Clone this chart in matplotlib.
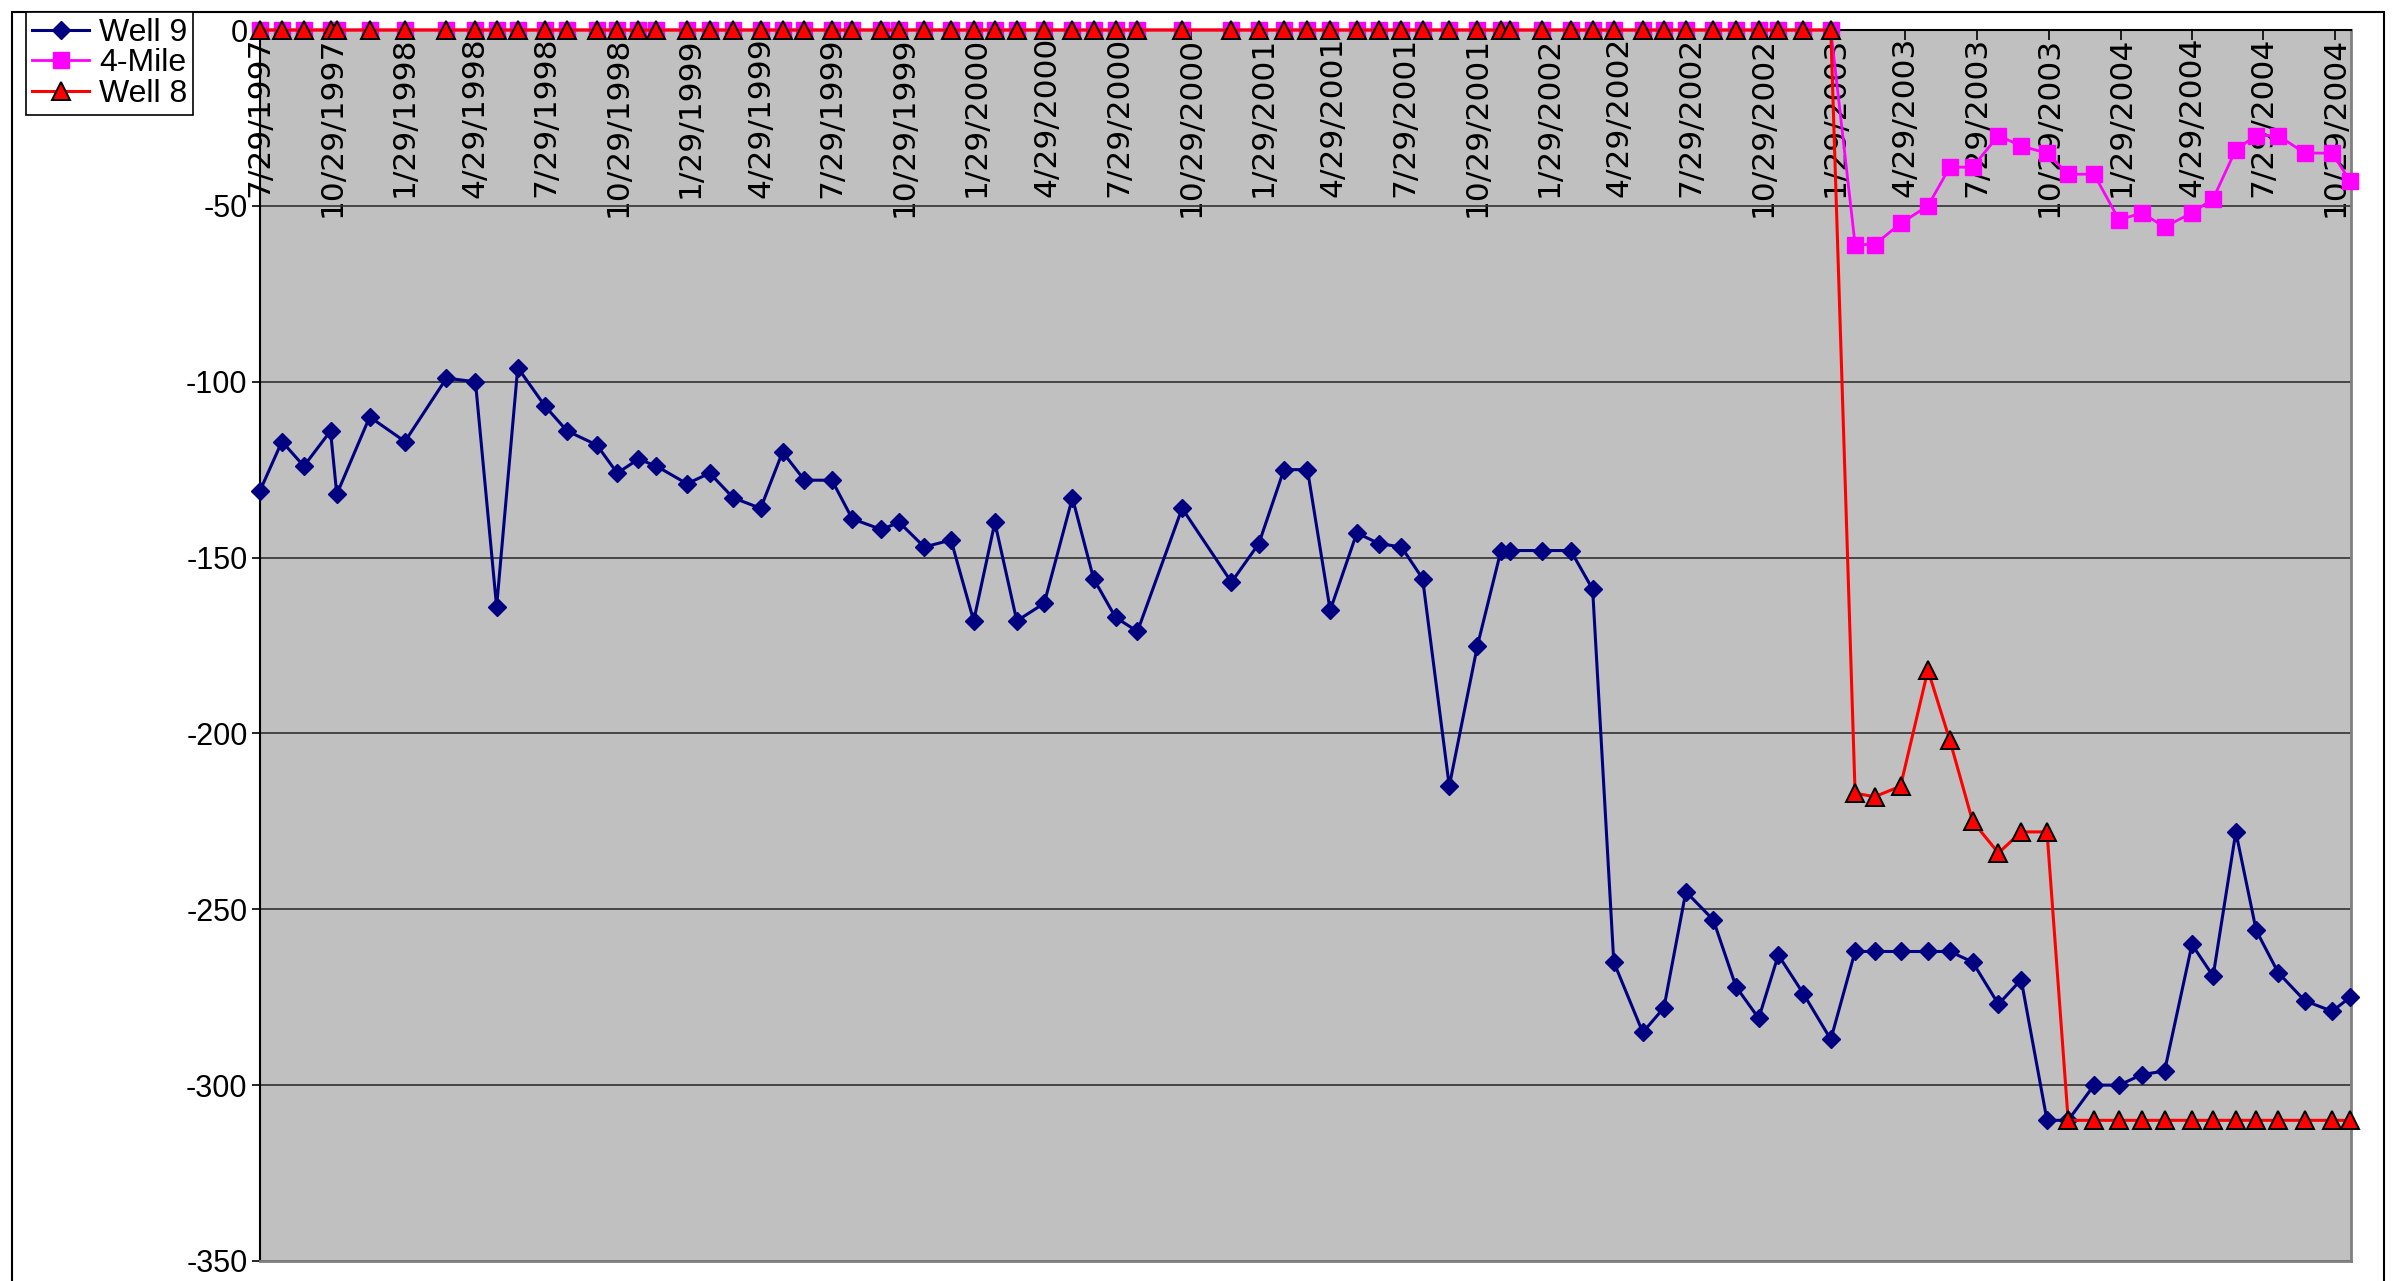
import matplotlib
matplotlib.use('Agg')
import matplotlib.pyplot as plt
from matplotlib.patches import Rectangle
import pandas as pd

# sampling dates shared by all three series
dates = [
    '1997-07-29', '1997-08-26', '1997-09-23', '1997-10-27', '1997-11-04', '1997-12-16',
    '1998-01-30', '1998-03-24', '1998-04-30', '1998-05-27', '1998-06-23', '1998-07-28',
    '1998-08-25', '1998-10-02', '1998-10-28', '1998-11-24', '1998-12-17', '1999-01-25',
    '1999-02-23', '1999-03-25', '1999-04-29', '1999-05-27', '1999-06-24', '1999-07-29',
    '1999-08-24', '1999-09-30', '1999-10-23', '1999-11-24', '1999-12-28', '2000-01-26',
    '2000-02-22', '2000-03-21', '2000-04-25', '2000-05-31', '2000-06-27', '2000-07-25',
    '2000-08-22', '2000-10-18', '2000-12-20', '2001-01-24', '2001-02-25', '2001-03-27',
    '2001-04-25', '2001-05-29', '2001-06-26', '2001-07-25', '2001-08-21', '2001-09-24',
    '2001-10-30', '2001-11-29', '2001-12-10', '2002-01-20', '2002-02-26', '2002-03-26',
    '2002-04-22', '2002-05-29', '2002-06-25', '2002-07-23', '2002-08-27', '2002-09-25',
    '2002-10-24', '2002-11-18', '2002-12-20', '2003-01-24', '2003-02-24', '2003-03-21',
    '2003-04-23', '2003-05-28', '2003-06-25', '2003-07-24', '2003-08-26', '2003-09-24',
    '2003-10-27', '2003-11-23', '2003-12-26', '2004-01-27', '2004-02-25', '2004-03-25',
    '2004-04-29', '2004-05-26', '2004-06-24', '2004-07-20', '2004-08-17', '2004-09-20',
    '2004-10-25', '2004-11-17',
]

well9 = [
    -131, -117, -124, -114, -132, -110, -117, -99, -100, -164, -96, -107,
    -114, -118, -126, -122, -124, -129, -126, -133, -136, -120, -128, -128,
    -139, -142, -140, -147, -145, -168, -140, -168, -163, -133, -156, -167,
    -171, -136, -157, -146, -125, -125, -165, -143, -146, -147, -156, -215,
    -175, -148, -148, -148, -148, -159, -265, -285, -278, -245, -253, -272,
    -281, -263, -274, -287, -262, -262, -262, -262, -262, -265, -277, -270,
    -310, -310, -300, -300, -297, -296, -260, -269, -228, -256, -268, -276,
    -279, -275,
]

four_mile = [
    0, 0, 0, 0, 0, 0, 0, 0, 0, 0, 0, 0, 0, 0, 0, 0,
    0, 0, 0, 0, 0, 0, 0, 0, 0, 0, 0, 0, 0, 0, 0, 0,
    0, 0, 0, 0, 0, 0, 0, 0, 0, 0, 0, 0, 0, 0, 0, 0,
    0, 0, 0, 0, 0, 0, 0, 0, 0, 0, 0, 0, 0, 0, 0, 0,
    -61, -61, -55, -50, -39, -39, -30, -33, -35, -41, -41, -54,
    -52, -56, -52, -48, -34, -30, -30, -35, -35, -43,
]

well8 = [
    0, 0, 0, 0, 0, 0, 0, 0, 0, 0, 0, 0, 0, 0, 0, 0,
    0, 0, 0, 0, 0, 0, 0, 0, 0, 0, 0, 0, 0, 0, 0, 0,
    0, 0, 0, 0, 0, 0, 0, 0, 0, 0, 0, 0, 0, 0, 0, 0,
    0, 0, 0, 0, 0, 0, 0, 0, 0, 0, 0, 0, 0, 0, 0, 0,
    -217, -218, -215, -182, -202, -225, -234, -228, -228, -310, -310, -310,
    -310, -310, -310, -310, -310, -310, -310, -310, -310, -310,
]

tick_labels = [
    '7/29/1997', '10/29/1997', '1/29/1998', '4/29/1998', '7/29/1998', '10/29/1998',
    '1/29/1999', '4/29/1999', '7/29/1999', '10/29/1999', '1/29/2000', '4/29/2000',
    '7/29/2000', '10/29/2000', '1/29/2001', '4/29/2001', '7/29/2001', '10/29/2001',
    '1/29/2002', '4/29/2002', '7/29/2002', '10/29/2002', '1/29/2003', '4/29/2003',
    '7/29/2003', '10/29/2003', '1/29/2004', '4/29/2004', '7/29/2004', '10/29/2004',
]

plt.rcParams['font.family'] = ['Liberation Sans', 'DejaVu Sans']
plt.rcParams['axes.unicode_minus'] = False

x = pd.to_datetime(dates)
ticks = pd.to_datetime(tick_labels, format='%m/%d/%Y')

W, H = 2393, 1281
fig = plt.figure(figsize=(W / 100, H / 100), dpi=100)
ax = fig.add_axes([260 / W, 1 - 1261 / H, (2351 - 260) / W, (1261 - 30) / H])
ax.set_facecolor('#C0C0C0')

ax.plot(x, well9, color='#000080', lw=2.2, marker='D', ms=9,
        label='Well 9', zorder=3, clip_on=False)
ax.plot(x, four_mile, color='#FF00FF', lw=2.0, marker='s', ms=12,
        label='4-Mile', zorder=4, clip_on=False)
ax.plot(x, well8, color='#FF0000', lw=2.2, marker='^', ms=13, mfc='#FF0000',
        mec='black', mew=1.4, label='Well 8', zorder=5, clip_on=False)

ax.set_ylim(-350, 0)
ax.set_xlim(pd.Timestamp('1997-07-29'), pd.Timestamp('2004-11-18'))
ax.set_yticks(range(-350, 1, 50))
ax.yaxis.grid(True, color='#303030', lw=1.2)
ax.set_axisbelow(True)

# x axis crosses at 0 (top); labels hang down inside the plot area
ax.set_xticks(ticks)
ax.set_xticklabels(tick_labels, fontfamily='DejaVu Sans')
ax.tick_params(axis='x', top=True, bottom=False, labeltop=True, labelbottom=False,
               direction='in', length=7, width=1.2, pad=-5, labelsize=22.5,
               labelrotation=90)
for t in ax.xaxis.get_major_ticks():
    t.label2.set_verticalalignment('top')
    t.label2.set_fontfamily('DejaVu Sans')
ax.tick_params(axis='y', direction='out', length=6, width=1.2, pad=3, labelsize=22)

for side in ['left', 'top']:
    ax.spines[side].set_color('black')
    ax.spines[side].set_linewidth(1.5)
for side in ['right', 'bottom']:
    ax.spines[side].set_color('#808080')
    ax.spines[side].set_linewidth(2)

# chart area border (bottom edge falls outside the picture)
fig.add_artist(Rectangle((12 / W, -0.05), (2384 - 12) / W, 1.05 - 12 / H,
                         transform=fig.transFigure, fill=False, ec='black', lw=1.5))

leg = fig.legend(loc='upper left', bbox_to_anchor=(26 / W, 1 - 12 / H),
                 borderaxespad=0, fontsize=23, frameon=True, fancybox=False,
                 edgecolor='black', framealpha=1, labelspacing=0.02,
                 borderpad=0.18, handlelength=1.8, handletextpad=0.3)
leg.get_frame().set_linewidth(1.2)

fig.savefig('out.png', dpi=100, facecolor='white')
